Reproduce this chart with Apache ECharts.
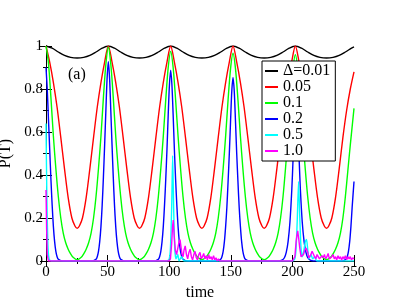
<!DOCTYPE html>
<html><head><meta charset="utf-8">
<script src="https://cdn.jsdelivr.net/npm/echarts@6/dist/echarts.min.js"></script>
<style>html,body{margin:0;padding:0;background:#fff}#c{width:399px;height:308px}</style>
</head><body><div id="c"></div>
<script>
var seriesNames = ['\u0394=0.01', '0.05', '0.1', '0.2', '0.5', '1.0'];
var seriesColors = ['#000000', '#ff0000', '#00ff00', '#0000ff', '#00ffff', '#ff00ff'];

var d001 = [[0,1],[5,0.99],[10,0.972],[15,0.956],[20,0.947],[25.3,0.944],[30.6,0.947],[35.6,0.956],[40.6,0.972],[45.6,0.99],[50.6,1],[55.6,0.99],[60.6,0.972],[65.6,0.956],[70.6,0.947],[75.9,0.944],[81.2,0.947],[86.2,0.956],[91.2,0.972],[96.2,0.99],[101.2,1],[106.2,0.99],[111.2,0.972],[116.2,0.956],[121.2,0.947],[126.5,0.944],[131.8,0.947],[136.8,0.956],[141.8,0.972],[146.8,0.99],[151.8,1],[156.8,0.99],[161.8,0.972],[166.8,0.956],[171.8,0.947],[177.1,0.944],[182.4,0.947],[187.4,0.956],[192.4,0.972],[197.4,0.99],[202.4,1],[207.4,0.99],[212.4,0.972],[217.4,0.956],[222.4,0.947],[227.7,0.944],[233,0.947],[238,0.956],[243,0.972],[248,0.99],[250,0.996]];

var d005 = [[0,1],[3,0.925],[6,0.83],[9,0.715],[12,0.575],[15,0.43],[18,0.295],[21,0.2],[23.5,0.163],[25.3,0.152],[27.1,0.163],[29.6,0.2],[32.6,0.295],[35.6,0.43],[38.6,0.575],[41.6,0.715],[44.6,0.83],[47.6,0.925],[50.6,1],[53.6,0.925],[56.6,0.83],[59.6,0.715],[62.6,0.575],[65.6,0.43],[68.6,0.295],[71.6,0.2],[74.1,0.163],[75.9,0.152],[77.7,0.163],[80.2,0.2],[83.2,0.295],[86.2,0.43],[89.2,0.575],[92.2,0.715],[95.2,0.83],[98.2,0.925],[101.2,1],[104.2,0.925],[107.2,0.83],[110.2,0.715],[113.2,0.575],[116.2,0.43],[119.2,0.295],[122.2,0.2],[124.7,0.163],[126.5,0.152],[128.3,0.163],[130.8,0.2],[133.8,0.295],[136.8,0.43],[139.8,0.575],[142.8,0.715],[145.8,0.83],[148.8,0.925],[151.8,1],[154.8,0.925],[157.8,0.83],[160.8,0.715],[163.8,0.575],[166.8,0.43],[169.8,0.295],[172.8,0.2],[175.3,0.163],[177.1,0.152],[178.9,0.163],[181.4,0.2],[184.4,0.295],[187.4,0.43],[190.4,0.575],[193.4,0.715],[196.4,0.83],[199.4,0.925],[202.4,1],[205.4,0.925],[208.4,0.83],[211.4,0.715],[214.4,0.575],[217.4,0.43],[220.4,0.295],[223.4,0.2],[225.9,0.163],[227.7,0.152],[229.5,0.163],[232,0.2],[235,0.295],[238,0.43],[241,0.575],[244,0.7],[247,0.8],[250,0.88]];

var d01 = [[0,1],[2,0.92],[4,0.76],[6,0.58],[8,0.43],[10,0.3],[12,0.2],[14,0.13],[16,0.085],[18,0.055],[20,0.033],[22,0.017],[25.3,0.006],[28.6,0.017],[30.6,0.033],[32.6,0.055],[34.6,0.085],[36.6,0.13],[38.6,0.2],[40.6,0.3],[42.6,0.43],[44.6,0.58],[46.6,0.76],[48.6,0.915],[50.6,0.994],[52.6,0.915],[54.6,0.76],[56.6,0.58],[58.6,0.43],[60.6,0.3],[62.6,0.2],[64.6,0.13],[66.6,0.085],[68.6,0.055],[70.6,0.033],[72.6,0.017],[75.9,0.006],[79.2,0.017],[81.2,0.033],[83.2,0.055],[85.2,0.085],[87.2,0.13],[89.2,0.2],[91.2,0.3],[93.2,0.43],[95.2,0.58],[97.2,0.75],[99.2,0.9],[101.2,0.975],[103.2,0.9],[105.2,0.75],[107.2,0.58],[109.2,0.43],[111.2,0.3],[113.2,0.2],[115.2,0.13],[117.2,0.085],[119.2,0.055],[121.2,0.033],[123.2,0.017],[126.5,0.006],[129.8,0.017],[131.8,0.033],[133.8,0.055],[135.8,0.085],[137.8,0.13],[139.8,0.2],[141.8,0.3],[143.8,0.43],[145.8,0.58],[147.8,0.75],[149.8,0.895],[151.8,0.966],[153.8,0.895],[155.8,0.75],[157.8,0.58],[159.8,0.43],[161.8,0.3],[163.8,0.2],[165.8,0.13],[167.8,0.085],[169.8,0.055],[171.8,0.033],[173.8,0.017],[177.1,0.006],[180.4,0.017],[182.4,0.033],[184.4,0.055],[186.4,0.085],[188.4,0.13],[190.4,0.2],[192.4,0.3],[194.4,0.43],[196.4,0.58],[198.4,0.745],[200.4,0.89],[202.4,0.96],[204.4,0.89],[206.4,0.745],[208.4,0.58],[210.4,0.43],[212.4,0.3],[214.4,0.2],[216.4,0.13],[218.4,0.085],[220.4,0.055],[222.4,0.033],[224.4,0.017],[227.7,0.006],[231,0.017],[233,0.033],[235,0.055],[237,0.085],[239,0.13],[241,0.2],[243,0.3],[245,0.42],[247,0.54],[250,0.71]];

var d02 = [[0,0.9],[1,0.8],[2,0.66],[3,0.52],[4,0.38],[5,0.26],[6,0.16],[7,0.09],[8,0.045],[9,0.02],[10,0.008],[12,0.002],[15,0],[36,0],[38.6,0.002],[40.6,0.008],[41.6,0.02],[42.6,0.045],[43.6,0.09],[44.6,0.16],[45.6,0.26],[46.6,0.39],[47.6,0.54],[48.6,0.7],[49.6,0.85],[50.6,0.927],[51.6,0.85],[52.6,0.7],[53.6,0.54],[54.6,0.39],[55.6,0.26],[56.6,0.16],[57.6,0.09],[58.6,0.045],[59.6,0.02],[60.6,0.008],[62.6,0.002],[65,0],[87,0],[89.2,0.002],[91.2,0.008],[92.2,0.02],[93.2,0.045],[94.2,0.09],[95.2,0.16],[96.2,0.26],[97.2,0.38],[98.2,0.52],[99.2,0.68],[100.2,0.82],[101.2,0.888],[102.2,0.82],[103.2,0.68],[104.2,0.52],[105.2,0.38],[106.2,0.26],[107.2,0.16],[108.2,0.09],[109.2,0.045],[110.2,0.02],[111.2,0.008],[113.2,0.002],[116,0],[138,0],[139.8,0.002],[141.8,0.008],[142.8,0.02],[143.8,0.045],[144.8,0.09],[145.8,0.16],[146.8,0.25],[147.8,0.37],[148.8,0.5],[149.8,0.65],[150.8,0.79],[151.8,0.854],[152.8,0.79],[153.8,0.65],[154.8,0.5],[155.8,0.37],[156.8,0.25],[157.8,0.16],[158.8,0.09],[159.8,0.045],[160.8,0.02],[161.8,0.008],[163.8,0.002],[166,0],[189,0],[191.5,0.004],[193.5,0.015],[195,0.04],[196.5,0.09],[198,0.18],[199.5,0.33],[200.5,0.47],[201.5,0.63],[202.3,0.76],[203,0.82],[203.7,0.76],[204.5,0.63],[205.5,0.47],[206.5,0.33],[208,0.18],[209.5,0.09],[211,0.04],[212.5,0.015],[214.5,0.004],[217,0],[239,0],[241.5,0.002],[243.5,0.008],[244.5,0.02],[245.5,0.045],[246.5,0.09],[247.5,0.16],[248.5,0.25],[250,0.37]];

var d05 = [[0,0.64],[0.7,0.3],[1.5,0.08],[2.5,0.01],[4,0],[98,0],[100,0.01],[101,0.06],[102,0.25],[102.8,0.49],[103.6,0.25],[104.5,0.06],[105.5,0.01],[107,0.03],[108,0],[110,0.02],[112,0],[200,0],[202,0.01],[203,0.06],[204,0.2],[205,0.37],[206,0.2],[207,0.06],[208,0.02],[209,0.04],[210.5,0.09],[211.5,0.1],[212.5,0.05],[213.5,0.01],[215,0.03],[216.5,0.01],[218,0.02],[220,0],[250,0]];

var d10 = [[0,0.33],[0.5,0.15],[1,0.03],[2,0],[100,0],[101,0.01],[102,0.08],[102.7,0.16],[103.3,0.19],[104,0.12],[105,0.05],[106,0.03],[107,0.06],[108,0.09],[108.8,0.1],[109.7,0.06],[110.5,0.03],[111.3,0.02],[112,0.05],[113,0.07],[114,0.03],[115,0.01],[116,0.04],[117,0.055],[118,0.02],[119,0.005],[120,0.03],[121,0.045],[122,0.015],[123,0.005],[124,0.03],[125,0.04],[126,0.01],[127,0.02],[128,0.035],[129,0.01],[130,0.025],[131,0.005],[132,0.03],[133,0.01],[134,0.02],[135,0.005],[136,0.025],[137,0.005],[138,0.015],[139,0],[140,0.01],[141,0],[200,0],[202,0.02],[203,0.09],[203.7,0.12],[204.3,0.14],[205,0.11],[206,0.06],[207,0.02],[208,0.015],[209,0.03],[210,0.05],[211,0.06],[211.6,0.065],[212.5,0.04],[213.3,0.015],[214,0.01],[215,0.03],[216,0.045],[217,0.05],[218,0.02],[219,0.01],[220,0.03],[221,0.035],[222,0.01],[223,0.005],[224,0.025],[225,0.015],[226,0.03],[227,0.01],[228,0.02],[229,0.035],[230,0.01],[231,0.005],[232,0.02],[233,0.03],[234,0.01],[235,0.02],[236,0.005],[237,0.025],[238,0.01],[239,0.02],[240,0.005],[241,0.02],[242,0.01],[243,0.025],[244,0.005],[245,0.02],[246,0.01],[247,0.02],[248,0.005],[249,0.015],[250,0.01]];

var seriesData = [d001, d005, d01, d02, d05, d10];
var smoothFlags = [0.3, 0.3, 0.3, 0.3, 0.2, false];

var FONT = 'Liberation Serif';
var chart = echarts.init(document.getElementById('c'), null, {renderer: 'canvas'});

var axisCommon = {
  axisLine: {show: true, lineStyle: {color: '#000', width: 1}},
  axisTick: {show: true, inside: true, length: 6, lineStyle: {color: '#000'}},
  minorTick: {show: true, splitNumber: 2, length: 3, lineStyle: {color: '#000'}},
  splitLine: {show: false},
  minorSplitLine: {show: false}
};

var series = seriesNames.map(function (n, i) {
  return {
    name: n, type: 'line', data: seriesData[i], xAxisIndex: 0, yAxisIndex: 0,
    showSymbol: false, symbol: 'none', smooth: smoothFlags[i],
    lineStyle: {color: seriesColors[i], width: 1.4},
    itemStyle: {color: seriesColors[i]},
    animation: false, clip: true
  };
});

chart.setOption({
  animation: false,
  backgroundColor: '#fff',
  grid: {left: 46, right: 45, top: 46, bottom: 47, containLabel: false, outerBoundsMode: 'none'},
  xAxis: [
    Object.assign({type: 'value', position: 'bottom', min: 0, max: 250, interval: 50,
      name: 'time', nameLocation: 'middle', nameGap: 17,
      nameTextStyle: {fontFamily: FONT, fontSize: 16, color: '#000'},
      axisLabel: {fontFamily: FONT, fontSize: 15, color: '#000', margin: 4}}, axisCommon),
    Object.assign({type: 'value', position: 'top', min: 0, max: 250, interval: 50,
      axisLabel: {show: false}}, axisCommon)
  ],
  yAxis: [
    Object.assign({type: 'value', position: 'left', min: 0, max: 1, interval: 0.2,
      name: 'P(T)', nameLocation: 'middle', nameGap: 25, nameRotate: 90,
      nameTextStyle: {fontFamily: FONT, fontSize: 16, color: '#000'},
      axisLabel: {fontFamily: FONT, fontSize: 15, color: '#000', margin: 3}}, axisCommon),
    Object.assign({type: 'value', position: 'right', min: 0, max: 1, interval: 0.2,
      axisLabel: {show: false}}, axisCommon)
  ],
  legend: {
    orient: 'vertical', left: 262, top: 61,
    data: seriesNames,
    icon: 'rect', itemWidth: 13, itemHeight: 2, itemGap: 0, itemTextGap: 5,
    padding: [2, 5, 2, 3],
    backgroundColor: '#fff', borderColor: '#000', borderWidth: 1, borderRadius: 0,
    textStyle: {fontFamily: FONT, fontSize: 16, color: '#000', lineHeight: 15},
    selectedMode: false
  },
  graphic: [{
    type: 'text', left: 68, top: 67,
    style: {text: '(a)', font: '16px "Liberation Serif"', fill: '#000'}
  }],
  series: series
});
</script></body></html>
